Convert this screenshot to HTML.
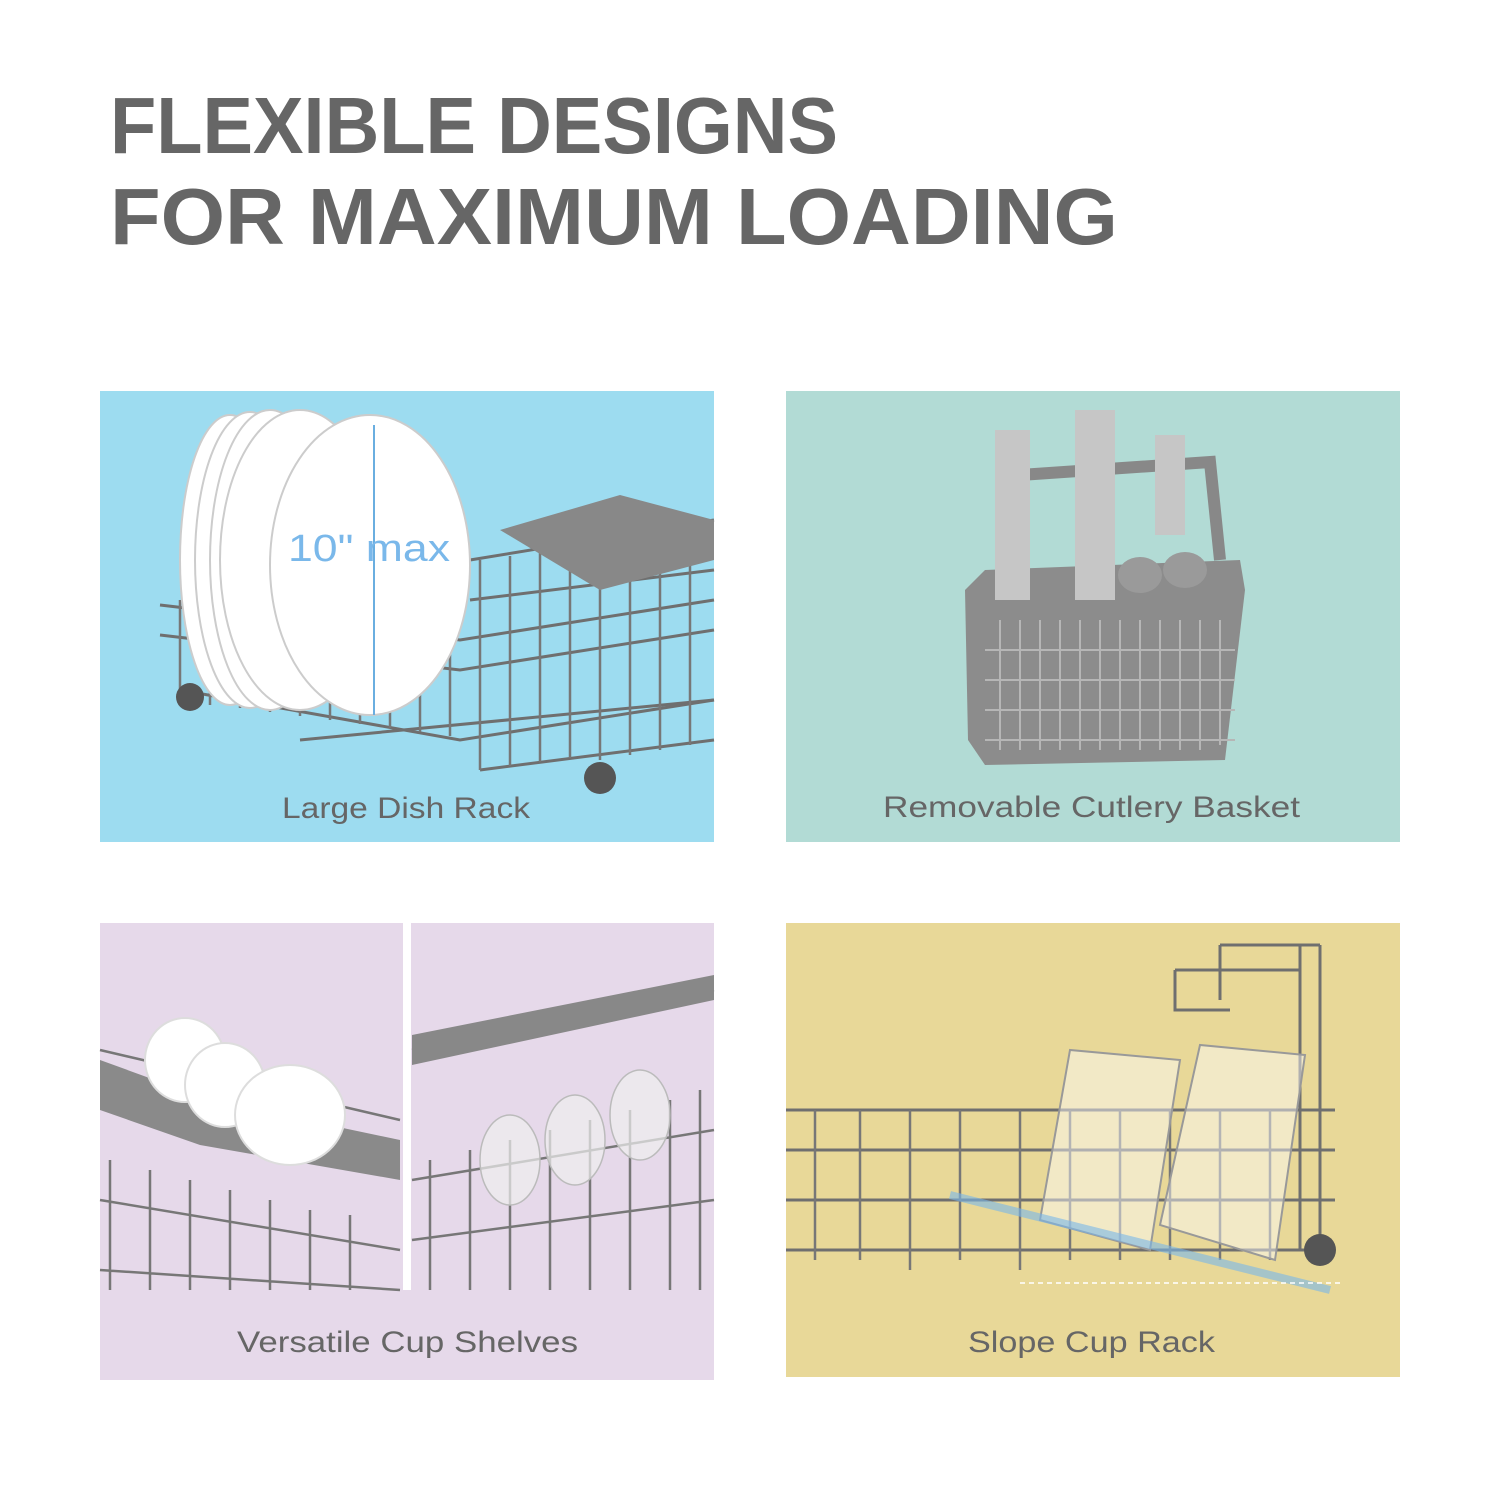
<!DOCTYPE html>
<html><head><meta charset="utf-8"><style>
html,body{margin:0;padding:0;background:#fff;}
body{width:1500px;height:1500px;position:relative;overflow:hidden;font-family:"Liberation Sans",sans-serif;}
svg{position:absolute;left:0;top:0;}
</style></head><body>
<svg width="1500" height="1500" viewBox="0 0 1500 1500" xmlns="http://www.w3.org/2000/svg">
<text x="110" y="153" font-family="Liberation Sans" font-weight="bold" font-size="80" fill="#666" textLength="728" lengthAdjust="spacingAndGlyphs">FLEXIBLE DESIGNS</text>
<text x="110" y="244" font-family="Liberation Sans" font-weight="bold" font-size="80" fill="#666" textLength="1008" lengthAdjust="spacingAndGlyphs">FOR MAXIMUM LOADING</text>

<!-- Panel 1 -->
<rect x="100" y="391" width="614" height="451" fill="#9ddcf0"/>
<g stroke="#6f6f6f" stroke-width="3" fill="none">
<path d="M160 605 L460 640 L714 600"/><path d="M160 635 L460 670 L714 630"/><path d="M180 690 L460 740 L714 700"/>
<path d="M300 740 L714 700"/><path d="M480 770 L714 740"/>
<path d="M470 560 L714 520"/><path d="M470 600 L714 570"/>
</g>
<g stroke="#777" stroke-width="2.5">
<path d="M180 600V700M210 605V705M240 608V708M270 612V712M300 616V716M330 620V720M360 624V724M390 628V728M420 632V732M450 636V736M480 560V770M510 556V766M540 552V762M570 548V758M600 544V760M630 540V755M660 536V750M690 532V745"/>
</g>
<g fill="#fff" stroke="#ccc" stroke-width="2">
<ellipse cx="230" cy="560" rx="50" ry="145"/><ellipse cx="250" cy="560" rx="55" ry="148"/><ellipse cx="270" cy="560" rx="60" ry="150"/><ellipse cx="300" cy="560" rx="80" ry="150"/><ellipse cx="370" cy="565" rx="100" ry="150"/>
</g>
<path d="M500 530 L620 495 L714 520 L714 560 L600 590 Z" fill="#888"/>
<circle cx="190" cy="697" r="14" fill="#555"/><circle cx="600" cy="778" r="16" fill="#555"/>
<line x1="374" y1="425" x2="374" y2="715" stroke="#6aaee0" stroke-width="2"/>
<text x="288" y="561" font-size="38" fill="#7ab8ea" font-family="Liberation Sans" textLength="162" lengthAdjust="spacingAndGlyphs">10" max</text>
<text x="282" y="818" font-size="30" fill="#666" font-family="Liberation Sans" textLength="248" lengthAdjust="spacingAndGlyphs">Large Dish Rack</text>

<!-- Panel 2 -->
<rect x="786" y="391" width="614" height="451" fill="#b2dbd5"/>
<path d="M965 590 L985 570 L1240 560 L1245 590 L1225 760 L985 765 L968 740 Z" fill="#8c8c8c"/>
<g stroke="#b6b6b6" stroke-width="2"><path d="M1000 620V750M1020 620V750M1040 620V750M1060 620V750M1080 620V750M1100 620V750M1120 620V750M1140 620V750M1160 620V750M1180 620V750M1200 620V750M1220 620V745M985 650H1235M985 680H1235M985 710H1235M985 740H1235"/></g>
<path d="M1010 560 L1020 475 L1210 462 L1220 560" fill="none" stroke="#888" stroke-width="12"/>
<g fill="#c6c6c6"><rect x="995" y="430" width="35" height="170"/><rect x="1075" y="410" width="40" height="190"/><rect x="1155" y="435" width="30" height="100"/></g>
<g fill="#9a9a9a"><ellipse cx="1140" cy="575" rx="22" ry="18"/><ellipse cx="1185" cy="570" rx="22" ry="18"/></g>
<text x="883" y="817" font-size="30" fill="#666" font-family="Liberation Sans" textLength="417" lengthAdjust="spacingAndGlyphs">Removable Cutlery Basket</text>

<!-- Panel 3 -->
<rect x="100" y="923" width="614" height="457" fill="#e6d9ea"/>
<rect x="403" y="923" width="8" height="367" fill="#fff"/>
<g stroke="#777" stroke-width="2.5" fill="none">
<path d="M100 1050 L400 1120M100 1200 L400 1250M100 1270 L400 1290M110 1160V1290M150 1170V1290M190 1180V1290M230 1190V1290M270 1200V1290M310 1210V1290M350 1215V1290"/>
<path d="M412 1050 L714 990M412 1180 L714 1130M412 1240 L714 1200M430 1160V1290M470 1150V1290M510 1140V1290M550 1130V1290M590 1120V1290M630 1110V1290M670 1100V1290M700 1090V1290"/>
</g>
<path d="M100 1060 L210 1100 L400 1140 L400 1180 L200 1145 L100 1110Z" fill="#8a8a8a"/>
<path d="M412 1035 L714 975 L714 1000 L412 1065Z" fill="#888"/>
<g fill="#fff" stroke="#ddd" stroke-width="2"><ellipse cx="185" cy="1060" rx="40" ry="42"/><ellipse cx="225" cy="1085" rx="40" ry="42"/><ellipse cx="290" cy="1115" rx="55" ry="50"/></g>
<g fill="#eee" fill-opacity="0.7" stroke="#bbb" stroke-width="1.5"><ellipse cx="510" cy="1160" rx="30" ry="45"/><ellipse cx="575" cy="1140" rx="30" ry="45"/><ellipse cx="640" cy="1115" rx="30" ry="45"/></g>
<text x="237" y="1352" font-size="30" fill="#666" font-family="Liberation Sans" textLength="341" lengthAdjust="spacingAndGlyphs">Versatile Cup Shelves</text>

<!-- Panel 4 -->
<rect x="786" y="923" width="614" height="454" fill="#e8d898"/>
<g stroke="#6f6f6f" stroke-width="3" fill="none">
<path d="M786 1110 H1335M786 1150 H1335M786 1200 H1335M786 1250 H1330"/>
<path d="M1175 970 H1300 M1175 970 V1010 H1230 M1220 945 H1320 M1220 945 V1000 M1300 945 V1250 M1320 945 V1250"/>
</g>
<g stroke="#777" stroke-width="2.5"><path d="M815 1110V1260M860 1110V1260M910 1110V1270M960 1110V1260M1020 1110V1270M1070 1110V1260M1120 1110V1260M1170 1110V1260M1220 1110V1260M1270 1110V1260"/></g>
<g fill="#fff" fill-opacity="0.45" stroke="#999" stroke-width="2"><path d="M1040 1220 L1070 1050 L1180 1060 L1150 1250Z"/><path d="M1160 1225 L1200 1045 L1305 1055 L1275 1260Z"/></g>
<path d="M950 1195 L1330 1290" stroke="#7ab8ea" stroke-width="8" opacity="0.6"/>
<path d="M1020 1283 H1340" stroke="#fff" stroke-width="1.5" stroke-dasharray="5 4"/>
<circle cx="1320" cy="1250" r="16" fill="#555"/>
<text x="968" y="1352" font-size="30" fill="#666" font-family="Liberation Sans" textLength="247" lengthAdjust="spacingAndGlyphs">Slope Cup Rack</text>
</svg>
</body></html>
